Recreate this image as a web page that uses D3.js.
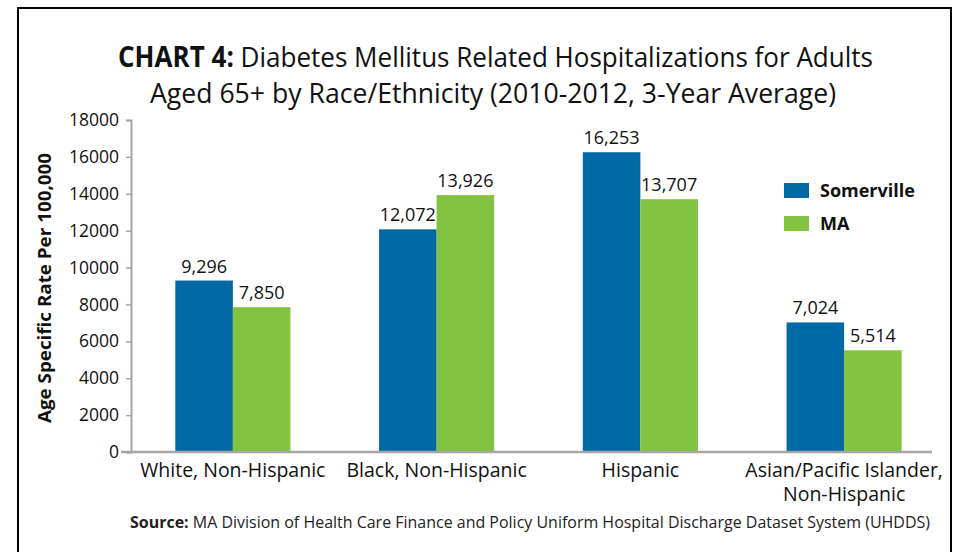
<!DOCTYPE html>
<html>
<head>
<meta charset="utf-8">
<script src="https://cdn.jsdelivr.net/npm/d3@7"></script>
<style>
  body { margin: 0; background: #fff; }
  svg { font-family: "Open Sans", sans-serif; }
</style>
</head>
<body>
<script>
const categories = [["White, Non-Hispanic"], ["Black, Non-Hispanic"], ["Hispanic"], ["Asian/Pacific Islander,", "Non-Hispanic"]];
const seriesNames = ["Somerville", "MA"];
const somerville = [9296, 12072, 16253, 7024];
const ma = [7850, 13926, 13707, 5514];
const yTicks = [0, 2000, 4000, 6000, 8000, 10000, 12000, 14000, 16000, 18000];
const colors = ["#0069a6", "#84c341"];

const W = 959, H = 552;
const margin = {top: 120, right: 13, bottom: 100, left: 131};

const svg = d3.select("body").append("svg")
  .attr("width", W)
  .attr("height", H);

// frame (open at bottom)
svg.append("path")
  .attr("d", `M18,${H} V8 H951 V${H}`)
  .attr("fill", "none")
  .attr("stroke", "#000")
  .attr("stroke-width", 2);

const catKeys = categories.map(c => c.join(" "));

const x = d3.scaleBand()
  .domain(catKeys)
  .range([margin.left, W - margin.right])
  .paddingInner(0.435)
  .paddingOuter(0.2175);

const x1 = d3.scaleBand()
  .domain(seriesNames)
  .range([0, x.bandwidth()]);

const y = d3.scaleLinear()
  .domain([0, 18000])
  .range([H - margin.bottom, margin.top]);

// title
const title = svg.append("text")
  .attr("x", 495.5).attr("y", 67)
  .attr("text-anchor", "middle")
  .attr("font-size", 28)
  .attr("fill", "#111")
  .attr("textLength", 755)
  .attr("lengthAdjust", "spacingAndGlyphs");
title.append("tspan")
  .attr("font-weight", "bold")
  .text("CHART 4:");
title.append("tspan")
  .text(" Diabetes Mellitus Related Hospitalizations for Adults");
svg.append("text")
  .attr("x", 493).attr("y", 103)
  .attr("text-anchor", "middle")
  .attr("font-size", 28)
  .attr("fill", "#111")
  .attr("textLength", 686)
  .attr("lengthAdjust", "spacingAndGlyphs")
  .text("Aged 65+ by Race/Ethnicity (2010-2012, 3-Year Average)");

// y axis
const yAxis = svg.append("g")
  .attr("transform", `translate(${margin.left},0)`)
  .call(d3.axisLeft(y).tickValues(yTicks).tickFormat(d3.format("d")).tickSize(5).tickPadding(7));
yAxis.select(".domain").attr("stroke", "#a6a6a6").attr("stroke-width", 2);
yAxis.selectAll(".tick line").attr("stroke", "#a6a6a6").attr("stroke-width", 1.5);
yAxis.selectAll(".tick text")
  .attr("font-size", 17.5)
  .attr("font-family", "Open Sans, sans-serif")
  .attr("fill", "#111");

svg.append("text")
  .attr("transform", `translate(51,${y(9000) + 2}) rotate(-90)`)
  .attr("text-anchor", "middle")
  .attr("font-size", 18)
  .attr("font-weight", "bold")
  .attr("fill", "#111")
  .attr("textLength", 270)
  .attr("lengthAdjust", "spacingAndGlyphs")
  .text("Age Specific Rate Per 100,000");

// bars
const groups = svg.append("g")
  .selectAll("g")
  .data(catKeys)
  .join("g")
  .attr("transform", d => `translate(${x(d)},0)`);

const seriesData = [somerville, ma];
groups.selectAll("rect")
  .data((d, i) => seriesNames.map((s, j) => ({s, v: seriesData[j][i]})))
  .join("rect")
  .attr("x", d => x1(d.s))
  .attr("y", d => y(d.v))
  .attr("width", x1.bandwidth())
  .attr("height", d => y(0) - y(d.v))
  .attr("fill", d => colors[seriesNames.indexOf(d.s)]);

groups.selectAll("text.val")
  .data((d, i) => seriesNames.map((s, j) => ({s, v: seriesData[j][i]})))
  .join("text")
  .attr("class", "val")
  .attr("x", d => x1(d.s) + x1.bandwidth() / 2)
  .attr("y", d => y(d.v) - 8)
  .attr("text-anchor", "middle")
  .attr("font-size", 18)
  .attr("fill", "#111")
  .text(d => d3.format(",")(d.v));

// x axis
const xAxis = svg.append("g")
  .attr("transform", `translate(0,${y(0)})`)
  .call(d3.axisBottom(x).tickSize(0).tickFormat(""));
xAxis.select(".domain")
  .attr("d", `M${margin.left - 10},0H${W - 27}`)
  .attr("stroke", "#a6a6a6").attr("stroke-width", 2.5);

const xLabels = svg.append("g")
  .selectAll("text")
  .data(categories)
  .join("text")
  .attr("x", (d, i) => x(catKeys[i]) + x.bandwidth() / 2)
  .attr("y", y(0) + 25)
  .attr("text-anchor", "middle")
  .attr("font-size", 19.5)
  .attr("fill", "#111");
xLabels.selectAll("tspan")
  .data(d => d)
  .join("tspan")
  .attr("x", function() { return this.parentNode.getAttribute("x"); })
  .attr("dy", (d, i) => i === 0 ? 0 : 24)
  .text(d => d);

// legend
const legend = svg.append("g")
  .selectAll("g")
  .data(seriesNames)
  .join("g")
  .attr("transform", (d, i) => `translate(784,${183 + i * 33})`);
legend.append("rect")
  .attr("width", 25).attr("height", 15)
  .attr("fill", (d, i) => colors[i]);
legend.append("text")
  .attr("x", 36).attr("y", 14)
  .attr("font-size", 18)
  .attr("font-weight", "bold")
  .attr("fill", "#111")
  .text(d => d);

// source
const src = svg.append("text")
  .attr("x", 530).attr("y", 528)
  .attr("text-anchor", "middle")
  .attr("font-size", 15.5)
  .attr("fill", "#222")
  .attr("textLength", 800)
  .attr("lengthAdjust", "spacingAndGlyphs");
src.append("tspan").attr("font-weight", "bold").text("Source:");
src.append("tspan").text(" MA Division of Health Care Finance and Policy Uniform Hospital Discharge Dataset System (UHDDS)");
</script>
</body>
</html>
